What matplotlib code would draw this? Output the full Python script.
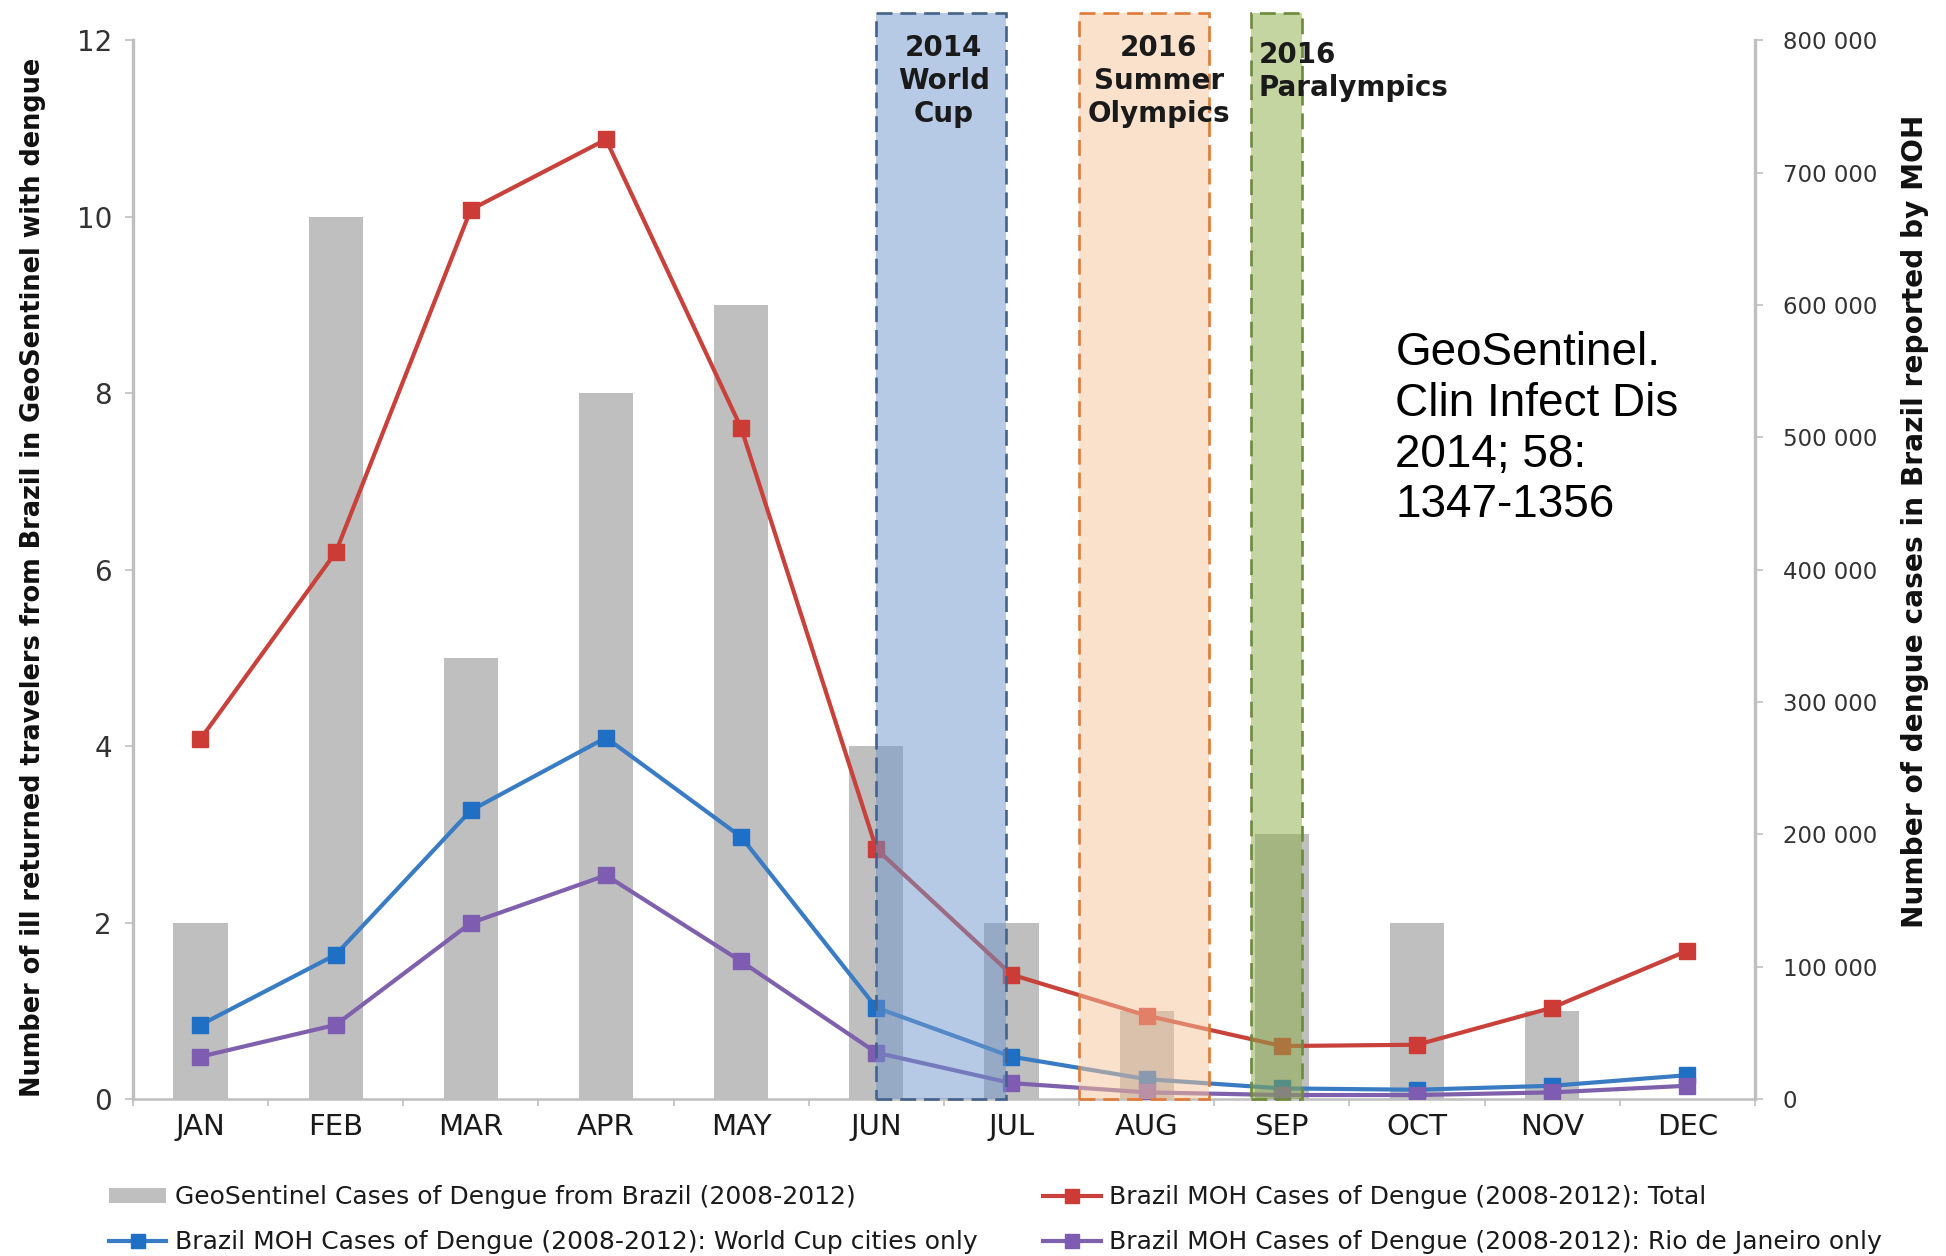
import numpy as np
import matplotlib
matplotlib.use('Agg')
import matplotlib.pyplot as plt
import matplotlib.ticker as ticker
from matplotlib.patches import Rectangle, Patch
from matplotlib.lines import Line2D
from matplotlib import font_manager

months = ['JAN', 'FEB', 'MAR', 'APR', 'MAY', 'JUN', 'JUL', 'AUG', 'SEP', 'OCT', 'NOV', 'DEC']
geosentinel_cases = [2, 10, 5, 8, 9, 4, 2, 1, 3, 2, 1, 0]
moh_total = [272000, 413000, 672000, 725000, 507000, 189000, 94000, 63000, 40000, 41000, 69000, 112000]
moh_world_cup = [56000, 109000, 218000, 273000, 198000, 69000, 32000, 15000, 8000, 7000, 10000, 18000]
moh_rio = [32000, 56000, 133000, 169000, 104000, 35000, 12000, 5000, 3000, 3000, 5000, 10000]

# event windows, in month positions (JAN = 0)
event_labels = ['2014\nWorld\nCup', '2016\nSummer\nOlympics', '2016\nParalympics']
event_start = [5.0, 6.5, 7.77]
event_end = [5.96, 7.46, 8.15]

legend_labels = ['GeoSentinel Cases of Dengue from Brazil (2008-2012)',
                 'Brazil MOH Cases of Dengue (2008-2012): Total',
                 'Brazil MOH Cases of Dengue (2008-2012): World Cup cities only',
                 'Brazil MOH Cases of Dengue (2008-2012): Rio de Janeiro only']

installed = {f.name for f in font_manager.fontManager.ttflist}
narrow = 'Liberation Sans Narrow' if 'Liberation Sans Narrow' in installed else 'DejaVu Sans'

plt.rcParams['font.family'] = 'DejaVu Sans'

fig = plt.figure(figsize=(19.46, 12.56), dpi=100)
ax = fig.add_axes([0.0683, 0.125, 0.8335, 0.843])
ax2 = ax.twinx()

x = np.arange(len(months))
ax.bar(x, geosentinel_cases, width=0.40, color='#bfbfbf', zorder=2)
ax.set_xlim(-0.5, 11.5)
ax.set_ylim(0, 12)
ax.set_yticks(range(0, 13, 2))

red, blue, purple = '#c8413b', '#3a7cc3', '#7f60ad'
line_kw = dict(lw=3.0, marker='s', markersize=11, zorder=3)
ax2.plot(x, moh_total, color=red, markerfacecolor='#cc3b36', markeredgecolor='#cc3b36', **line_kw)
ax2.plot(x, moh_world_cup, color=blue, markerfacecolor='#1f6fc5', markeredgecolor='#1f6fc5', **line_kw)
ax2.plot(x, moh_rio, color=purple, markerfacecolor='#7d5cb2', markeredgecolor='#7d5cb2', **line_kw)
ax2.set_ylim(0, 800000)
ax2.yaxis.set_major_locator(ticker.MultipleLocator(100000))
ax2.yaxis.set_major_formatter(ticker.FuncFormatter(
    lambda v, pos: '{:,.0f}'.format(v).replace(',', ' ')))

# event shading on top of bars and lines
fills = [('#6f95cc', '#44628a'), ('#f6c498', '#e07a36'), ('#8dad47', '#6b8a3a')]
trans = ax2.get_xaxis_transform()
for (fc, ec), x0, x1 in zip(fills, event_start, event_end):
    ax2.add_patch(Rectangle((x0, 0), x1 - x0, 1.0255, transform=trans,
                            facecolor=fc, alpha=0.5, edgecolor='none',
                            zorder=5, clip_on=False))
    ax2.add_patch(Rectangle((x0, 0), x1 - x0, 1.0255, transform=trans,
                            facecolor='none', edgecolor=ec, lw=1.9,
                            linestyle=(0, (6, 3)), zorder=6, clip_on=False))

lab_kw = dict(transform=trans, va='top', fontsize=20, fontweight='bold',
              color='#1a1a1a', linespacing=1.23, zorder=7)
ax2.text(5.5, 1.006, event_labels[0], ha='center', **lab_kw)
ax2.text(7.09, 1.006, event_labels[1], ha='center', **lab_kw)
ax2.text(7.83, 0.999, event_labels[2], ha='left', **lab_kw)

# spines and ticks
grey = '#bfbfbf'
for a in (ax, ax2):
    a.spines['top'].set_visible(False)
ax.spines['right'].set_visible(False)
ax2.spines['left'].set_visible(False)
ax2.spines['bottom'].set_visible(False)
ax.spines['left'].set_color(grey)
ax.spines['left'].set_linewidth(2.4)
ax.spines['bottom'].set_color(grey)
ax.spines['bottom'].set_linewidth(1.8)
ax2.spines['right'].set_color(grey)
ax2.spines['right'].set_linewidth(2.4)

ax.set_xticks(x)
ax.set_xticklabels(months)
ax.set_xticks(np.arange(-0.5, 12, 1), minor=True)
ax.tick_params(axis='x', which='major', length=0, pad=10, labelsize=21, labelcolor='#1a1a1a')
ax.tick_params(axis='x', which='minor', length=5, width=1.2, color=grey)
ax.tick_params(axis='y', length=6, width=1.2, color=grey, pad=9, labelsize=20, labelcolor='#333333')
ax2.tick_params(axis='y', length=6, width=1.2, color=grey, pad=14, labelsize=16.5, labelcolor='#333333')

# axis titles, fitted to the lengths seen in the reference
ylab_left = fig.text(0.017, 0.54, 'Number of ill returned travelers from Brazil in GeoSentinel with dengue',
                     rotation=90, ha='center', va='center', fontsize=26, fontweight='bold',
                     family=narrow, color='#111111')
ylab_right = fig.text(0.984, 0.585, 'Number of dengue cases in Brazil reported by MOH',
                      rotation=90, ha='center', va='center', fontsize=26, fontweight='bold',
                      family=narrow, color='#111111')
fig.canvas.draw()
r = fig.canvas.get_renderer()
for t, target in ((ylab_left, 1043), (ylab_right, 814)):
    h = t.get_window_extent(r).height
    t.set_fontsize(26 * target / h)

fig.text(0.717, 0.7365, 'GeoSentinel.\nClin Infect Dis\n2014; 58:\n1347-1356',
         ha='left', va='top', fontsize=33, family='Liberation Sans', color='black',
         linespacing=1.2)

# legend
h_geo = Patch(facecolor='#bfbfbf', edgecolor='none')
h_tot = Line2D([], [], color=red, lw=3, marker='s', markersize=10, markerfacecolor='#cc3b36', markeredgecolor='#cc3b36')
h_wc = Line2D([], [], color=blue, lw=3, marker='s', markersize=10, markerfacecolor='#1f6fc5', markeredgecolor='#1f6fc5')
h_rio = Line2D([], [], color=purple, lw=3, marker='s', markersize=10, markerfacecolor='#7d5cb2', markeredgecolor='#7d5cb2')
leg_kw = dict(loc='upper left', frameon=False, fontsize=18, borderpad=0, borderaxespad=0,
              handlelength=2.3, handletextpad=0.35, labelspacing=0.84, handleheight=0.55,
              labelcolor='#1a1a1a')
fig.legend([h_geo, h_wc], [legend_labels[0], legend_labels[2]],
           bbox_to_anchor=(0.056, 0.0565), **leg_kw)
fig.legend([h_tot, h_rio], [legend_labels[1], legend_labels[3]],
           bbox_to_anchor=(0.536, 0.0565), **leg_kw)

plt.savefig('out.png', dpi=100)
